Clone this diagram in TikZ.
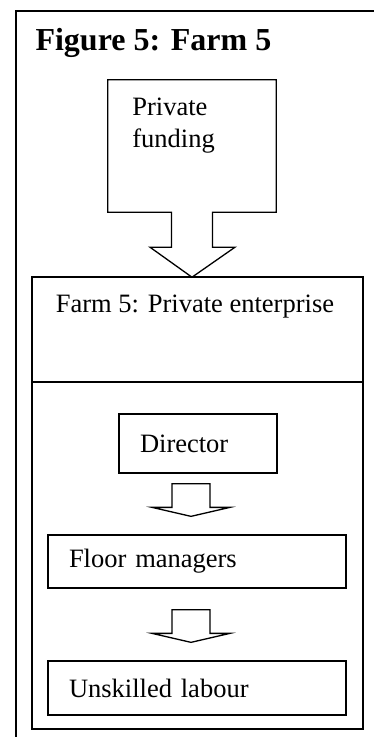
\documentclass[tikz,border=0pt]{standalone}
\usepackage{fontspec}
\setmainfont{Liberation Serif}
\usetikzlibrary{calc}

\tikzset{
  every node/.style={font=\fontsize{26.5}{32}\selectfont},
  outline/.style={line width=1.3pt, line join=miter},
  orgbox/.style={draw, line width=1.3pt, inner sep=0pt, minimum width=#1},
  rankbox/.style={draw, line width=1.3pt, inner xsep=21pt, inner ysep=0pt, align=left, text width=#1},
}

% hollow block arrow: start, tip, stem half width, head half width, head length
\newcommand{\blockarrow}[5]{%
  \draw[outline] ($(#1)+(-#3,0)$) -- ($(#2)+(-#3,-#5)$) -- ($(#2)+(-#4,-#5)$) -- (#2)
    -- ($(#2)+(#4,-#5)$) -- ($(#2)+(#3,-#5)$) -- ($(#1)+(#3,0)$) -- cycle;}

\begin{document}
\begin{tikzpicture}[x=1pt, y=-1pt]
			\useasboundingbox (0,0) rectangle (374,737);
			\draw[outline] (16,740) -- (16,11) -- (376,11);
			
			\node[anchor=base west, font=\bfseries\fontsize{32}{38}\selectfont] (title) at (32,50) {Figure 5: Farm 5};
			
			% funding box with its arrow
			\node[minimum width=168pt, minimum height=132pt, inner sep=0pt] (fund) at (192,146) {};
			\draw[outline] (fund.south west) -- (fund.north west) -- (fund.north east) -- (fund.south east)
			-- ($(fund.south)+(20.5,0)$) -- ($(fund.south)+(20.5,35)$) -- ($(fund.south)+(43,35)$)
			-- ($(fund.south)+(0,65)$) -- ($(fund.south)+(-42,35)$) -- ($(fund.south)+(-20.5,35)$)
			-- ($(fund.south)+(-20.5,0)$) -- cycle;
			\node[anchor=base west, align=left] (fundtxt) at ($(fund.north west)+(21,68)$) {Private\\funding};
			
			\node[orgbox=331pt, minimum height=105pt] (ent) at (197.5,329.5) {};
			\node[anchor=base west] (enttxt) at ($(ent.north west)+(21,36)$) {Farm 5: Private enterprise};
			\node[orgbox=331pt, minimum height=347pt] (staff) at (197.5,555.5) {};
			
			\node[rankbox=116pt, minimum height=59pt] (dir) at (198,443.5) {Director};
			\node[rankbox=256pt, minimum height=53pt] (floor) at (197,561.5) {Floor managers};
			\node[rankbox=256pt, minimum height=54pt] (lab) at (197,688) {Unskilled labour};
			
			\coordinate (a1top) at ($(dir.south)+(-7,10)$);
			\coordinate (a1tip) at ($(floor.north)+(-6,-18)$);
			\coordinate (a2top) at ($(floor.south)+(-6,21)$);
			\coordinate (a2tip) at ($(lab.north)+(-6,-18)$);
			\blockarrow{a1top}{a1tip}{19}{39}{9}
			\blockarrow{a2top}{a2tip}{19}{39}{9}
		\end{tikzpicture}
\end{document}
